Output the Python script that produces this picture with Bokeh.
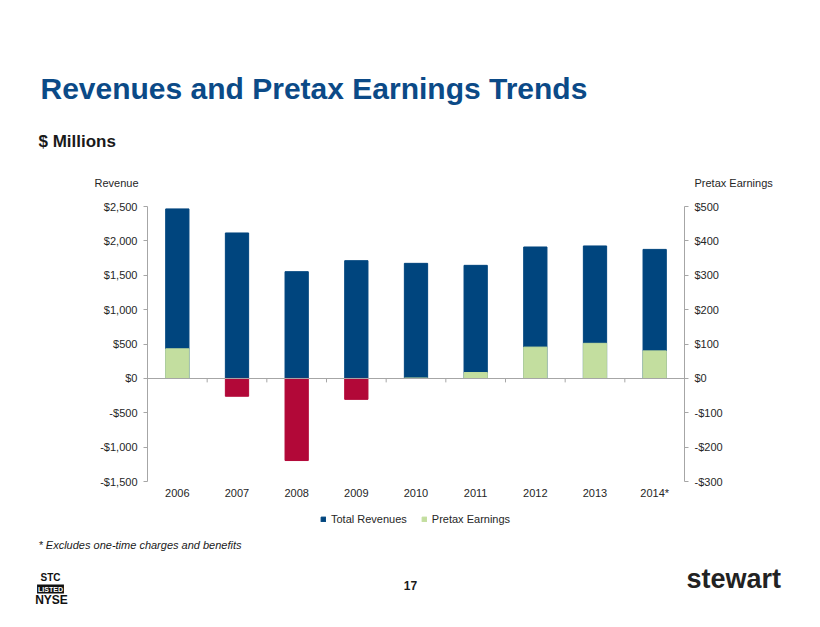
from math import pi

from bokeh.embed import file_html
from bokeh.resources import INLINE
from bokeh.plotting import figure
from bokeh.models import (ColumnDataSource, Range1d, LinearAxis,
                          FixedTicker, Label, Legend, LegendItem)

# chart data, $ millions
years = ["2006", "2007", "2008", "2009", "2010", "2011", "2012", "2013", "2014*"]
revenues = [2465, 2115, 1552, 1712, 1673, 1644, 1911, 1926, 1876]
pretax = [86, -52, -239, -61, 1, 17, 91, 102, 80]

rev_ticks = [-1500, -1000, -500, 0, 500, 1000, 1500, 2000, 2500]
rev_labels = ["-$1,500", "-$1,000", "-$500", "$0", "$500", "$1,000", "$1,500", "$2,000", "$2,500"]
pretax_ticks = [-300, -200, -100, 0, 100, 200, 300, 400, 500]
pretax_labels = ["-$300", "-$200", "-$100", "$0", "$100", "$200", "$300", "$400", "$500"]

BLUE = "#00457E"
GREEN = "#C3DE9F"
RED = "#B20838"
AXIS = "#A6A6A6"
TEXT = "#262626"
FONT = "Liberation Sans"

W, H = 804, 611
# pixel box of the chart area inside the canvas (left, right, top, bottom)
BOX_L, BOX_R, BOX_T, BOX_B = 147, 684, 206, 481
n = len(years)
rev_lo, rev_hi = rev_ticks[0], rev_ticks[-1]
pre_lo, pre_hi = pretax_ticks[0], pretax_ticks[-1]


def span(lo, hi, a, b, total, flip=False):
    # data range covering the full canvas when [lo, hi] maps to pixels [a, b]
    k = (hi - lo) / (b - a)
    if flip:
        return Range1d(lo - (total - b) * k, hi + a * k)
    return Range1d(lo - a * k, hi + (total - b) * k)


# category slots on a numeric axis: centre of slot i is i + 0.5
centers = [i + 0.5 for i in range(n)]
bounds = list(range(1, n))

source = ColumnDataSource(data={
    "x": centers,
    "revenue": revenues,
    "pretax": pretax,
    "pcolor": [GREEN if v >= 0 else RED for v in pretax],
})

p = figure(
    width=W, height=H,
    x_range=span(0, n, BOX_L, BOX_R, W),
    y_range=span(rev_lo, rev_hi, BOX_T, BOX_B, H, flip=True),
    x_axis_location=None, y_axis_location=None,
    output_backend="svg", toolbar_location=None,
    min_border=0, outline_line_color=None,
)
p.extra_y_ranges = {"pretax": span(pre_lo, pre_hi, BOX_T, BOX_B, H, flip=True)}
p.xgrid.visible = False
p.ygrid.visible = False

r_rev = p.vbar(x="x", top="revenue", width=0.39, source=source,
               fill_color=BLUE, line_color=BLUE)
r_pre = p.vbar(x="x", top="pretax", bottom=0, width=0.39, source=source,
               y_range_name="pretax", fill_color="pcolor", line_color="pcolor")


def style(ax):
    ax.axis_line_color = AXIS
    ax.major_tick_line_color = AXIS
    ax.major_tick_out = 4
    ax.major_tick_in = 0
    ax.minor_tick_line_color = None
    ax.major_label_standoff = 6
    ax.major_label_text_font = FONT
    ax.major_label_text_font_size = "11px"
    ax.major_label_text_color = TEXT


# left axis
la = LinearAxis(fixed_location=0, bounds=(rev_lo, rev_hi),
                ticker=FixedTicker(ticks=rev_ticks))
la.major_label_overrides = dict(zip(rev_ticks, rev_labels))
style(la)
p.add_layout(la, "left")

# right axis
ra = LinearAxis(y_range_name="pretax", fixed_location=n, bounds=(pre_lo, pre_hi),
                ticker=FixedTicker(ticks=pretax_ticks))
ra.major_label_overrides = dict(zip(pretax_ticks, pretax_labels))
style(ra)
p.add_layout(ra, "right")

# zero line, with small ticks between categories
za = LinearAxis(fixed_location=0, bounds=(0, n), ticker=FixedTicker(ticks=[]))
style(za)
p.add_layout(za, "below")
p.ray(x=bounds, y=0, length=4, length_units="screen", angle=-pi / 2,
      line_color=AXIS, line_width=1)

# category labels under the chart
xa = LinearAxis(fixed_location=rev_lo, bounds=(0, n), ticker=FixedTicker(ticks=centers))
xa.major_label_overrides = dict(zip(centers, years))
style(xa)
xa.axis_line_color = None
xa.major_tick_line_color = None
xa.major_tick_out = 0
xa.major_label_standoff = 5
p.add_layout(xa, "below")

legend = Legend(items=[
    LegendItem(label="Total Revenues", renderers=[r_rev], index=0),
    LegendItem(label="Pretax Earnings", renderers=[r_pre], index=0),
], location=(320, 86), orientation="horizontal",
    glyph_width=6, glyph_height=6, label_height=12, label_width=10,
    label_text_font=FONT, label_text_font_size="11px", label_text_color=TEXT,
    label_text_baseline="middle",
    border_line_color=None, background_fill_alpha=0,
    spacing=14, label_standoff=5, padding=0, margin=0)
p.add_layout(legend, "center")


def label(x, y, text, size, color=TEXT, style="normal", **kw):
    # position given as canvas pixels from top-left, baseline near y
    px = float(size.rstrip("px"))
    p.add_layout(Label(x=x, y=H - y + 0.35 * px, x_units="screen", y_units="screen",
                       text=text, text_font=FONT, text_font_size=size,
                       text_color=color, text_font_style=style,
                       text_baseline="alphabetic", **kw))


label(40, 98, "Revenues and Pretax Earnings Trends", "30px", "#0B4A87", "bold")
label(38, 147, "$ Millions", "17px", "#1A1A1A", "bold")
label(94, 186, "Revenue", "11px")
label(694, 186, "Pretax Earnings", "11px")
label(38, 548, "* Excludes one-time charges and benefits", "11px", "#1A1A1A", "italic")
label(410, 589, "17", "12px", "#1A1A1A", "bold", text_align="center")
label(50, 580, "STC", "10px", "#111111", "bold", text_align="center")
label(50, 591, "LISTED", "7px", "white", "bold", text_align="center",
      background_fill_color="#111111", padding=1)
label(51, 604, "NYSE", "12px", "#111111", "bold", text_align="center")
label(686, 588, "stewart", "27px", "#222222", "bold")

open("out.html", "w").write(file_html(p, INLINE))
